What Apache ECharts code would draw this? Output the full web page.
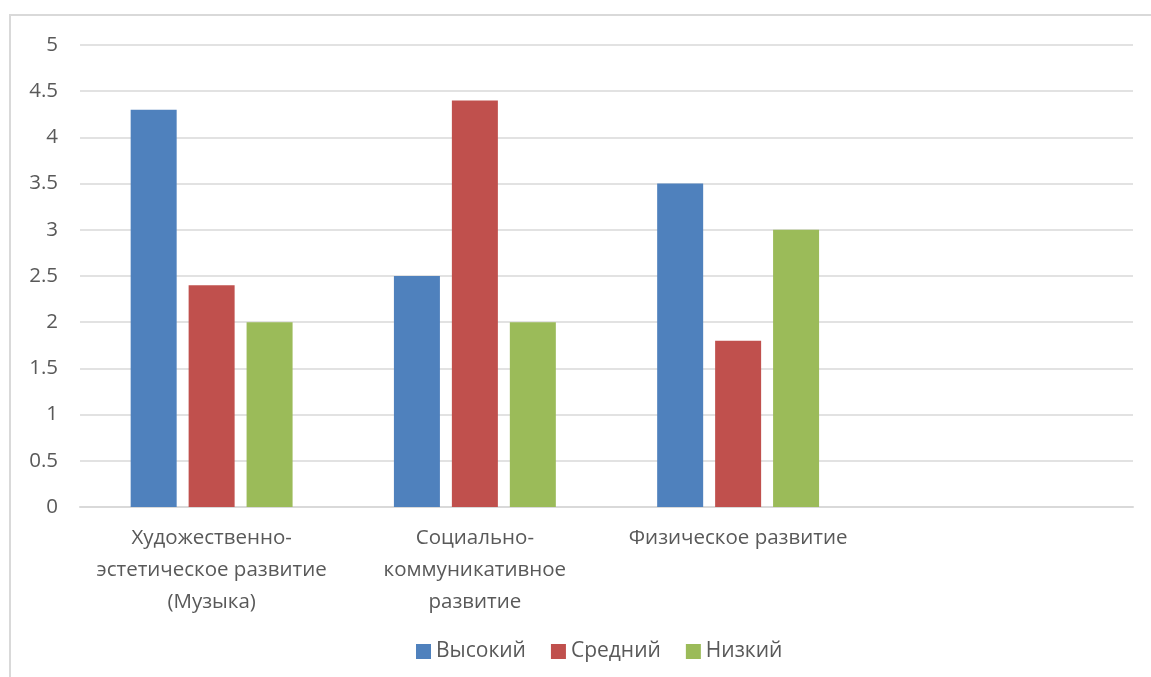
<!DOCTYPE html>
<html><head><meta charset="utf-8">
<script src="https://cdn.jsdelivr.net/npm/echarts@6/dist/echarts.min.js"></script>
<style>html,body{margin:0;padding:0;background:#fff}#c{width:1151px;height:677px}</style>
</head><body><div id="c"></div>
<script>
const categories = ['Художественно-\nэстетическое развитие\n(Музыка)', 'Социально-\nкоммуникативное\nразвитие', 'Физическое развитие', ''];
const seriesNames = ['Высокий', 'Средний', 'Низкий'];
const high = [4.3, 2.5, 3.5, null];
const mid = [2.4, 4.4, 1.8, null];
const low = [2, 2, 3, null];
const colors = ['#4f81bd', '#c0504d', '#9bbb59'];
const font = '"Open Sans", "Liberation Sans", sans-serif';
const chart = echarts.init(document.getElementById('c'));
const mk = (name, data, color) => ({
  name, type: 'bar', data, barWidth: 46, barGap: '26%',
  itemStyle: { color }
});
chart.setOption({
  animation: false,
  graphic: [{ type: 'rect', shape: { x: 10, y: 15, width: 1200, height: 700 },
    style: { fill: 'none', stroke: '#d9d9d9', lineWidth: 2 }, silent: true, z: -1 }],
  grid: { left: 80, right: 18, top: 45, bottom: 170 },
  legend: {
    top: 636, left: 411, itemWidth: 15, itemHeight: 15, itemGap: 25, icon: 'rect',
    textStyle: { fontFamily: font, fontSize: 21, color: '#595959' },
    data: seriesNames
  },
  xAxis: {
    type: 'category', data: categories,
    axisLine: { lineStyle: { color: '#d9d9d9', width: 2 } },
    axisTick: { show: false },
    axisLabel: { fontFamily: font, fontSize: 20.5, color: '#595959', lineHeight: 32, margin: 15, interval: 0 }
  },
  yAxis: {
    type: 'value', min: 0, max: 5, interval: 0.5,
    axisLine: { show: false }, axisTick: { show: false },
    splitLine: { lineStyle: { color: '#d9d9d9', width: 1.5 } },
    axisLabel: { fontFamily: font, fontSize: 20.5, color: '#595959', margin: 22 }
  },
  series: [mk(seriesNames[0], high, colors[0]), mk(seriesNames[1], mid, colors[1]), mk(seriesNames[2], low, colors[2])]
});
</script></body></html>
